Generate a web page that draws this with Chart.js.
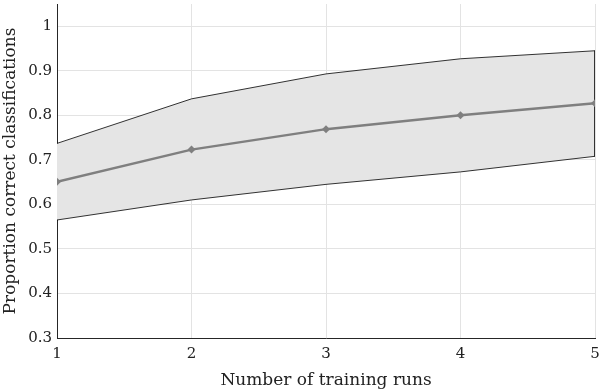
<!DOCTYPE html>
<html lang="en">
<head>
<meta charset="UTF-8">
<title>Proportion correct classifications</title>
<script src="https://cdn.jsdelivr.net/npm/chart.js"></script>
<style>
    html, body { margin: 0; padding: 0; background: #fff; }
    #wrap { width: 600px; height: 391px; position: relative; }
</style>
</head>
<body>
<div id="wrap"><canvas id="chart"></canvas></div>
<script>
// data
const runs = [1, 2, 3, 4, 5];
const meanCorrect = [0.651, 0.723, 0.769, 0.800, 0.827];
const upperBound = [0.737, 0.837, 0.893, 0.927, 0.945];
const lowerBound = [0.565, 0.610, 0.645, 0.673, 0.708];
const yTickValues = [0.3, 0.4, 0.5, 0.6, 0.7, 0.8, 0.9, 1];
const xTickValues = [1, 2, 3, 4, 5];

const serif = "'DejaVu Serif', 'Liberation Serif', serif";
const pts = arr => runs.map((r, i) => ({ x: r, y: arr[i] }));
const last = runs.length - 1;

new Chart(document.getElementById('chart'), {
    type: 'line',
    data: {
        datasets: [
            {
                label: 'upper',
                data: pts(upperBound),
                borderColor: '#000',
                borderWidth: 0.8,
                backgroundColor: '#e5e5e5',
                fill: '+1',
                pointRadius: 0,
                tension: 0,
                order: 3
            },
            {
                label: 'lower',
                data: pts(lowerBound),
                borderColor: '#000',
                borderWidth: 0.8,
                fill: false,
                pointRadius: 0,
                tension: 0,
                order: 2
            },
            {
                label: 'edge',
                data: [{ x: runs[last], y: upperBound[last] }, { x: runs[last], y: lowerBound[last] }],
                borderColor: '#000',
                borderWidth: 0.8,
                fill: false,
                pointRadius: 0,
                order: 1
            },
            {
                label: 'mean',
                data: pts(meanCorrect),
                borderColor: '#7f7f7f',
                borderWidth: 2.5,
                backgroundColor: '#7f7f7f',
                pointStyle: 'rectRot',
                pointRadius: 4,
                pointBorderWidth: 0,
                fill: false,
                tension: 0,
                order: 0
            }
        ]
    },
    options: {
        responsive: true,
        maintainAspectRatio: false,
        animation: false,
        layout: { padding: { top: 2, right: 5, left: 0, bottom: 0 } },
        plugins: {
            legend: { display: false },
            tooltip: { enabled: false }
        },
        scales: {
            x: {
                type: 'linear',
                min: 1,
                max: 5,
                afterBuildTicks: axis => { axis.ticks = xTickValues.map(v => ({ value: v })); },
                afterFit: axis => {
                    axis.height = 53;
                    axis.paddingLeft = 0;
                    axis.paddingRight = 0;
                },
                grid: { color: '#e3e3e3', lineWidth: 1, drawTicks: false },
                border: { color: '#262626', width: 1 },
                ticks: {
                    color: '#222',
                    padding: 7,
                    font: { family: serif, size: 15 },
                    callback: v => String(v)
                },
                title: {
                    display: true,
                    text: 'Number of training runs',
                    color: '#222',
                    font: { family: serif, size: 17 },
                    padding: { top: 0, bottom: 0 }
                }
            },
            y: {
                min: 0.3,
                max: 1.05,
                afterBuildTicks: axis => { axis.ticks = yTickValues.map(v => ({ value: v })); },
                afterFit: axis => {
                    axis.width = 57;
                    axis.paddingTop = 0;
                    axis.paddingBottom = 0;
                },
                grid: { color: '#e3e3e3', lineWidth: 1, drawTicks: false },
                border: { color: '#262626', width: 1 },
                ticks: {
                    color: '#222',
                    padding: 5,
                    font: { family: serif, size: 15 },
                    callback: v => String(Math.round(v * 10) / 10)
                },
                title: {
                    display: true,
                    text: 'Proportion correct classifications',
                    color: '#222',
                    font: { family: serif, size: 17 },
                    padding: { top: 0, bottom: 1 }
                }
            }
        }
    }
});
</script>
</body>
</html>
